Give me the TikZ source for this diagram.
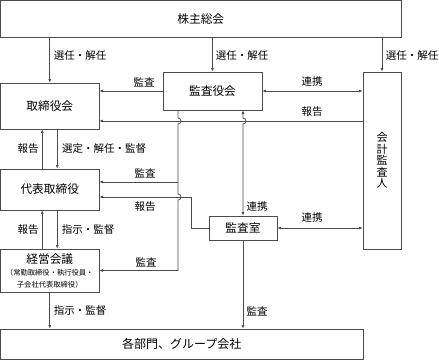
\documentclass[tikz,border=0pt]{standalone}
\usepackage{fontspec}
\setmainfont{Noto Sans CJK JP}
\usetikzlibrary{positioning,arrows.meta}

\begin{document}
\begin{tikzpicture}[
  x=1pt, y=-1pt,
  box/.style={draw=black!70, line width=0.8pt, inner sep=0pt, font=\fontsize{11.7}{13}\selectfont},
  lbl/.style={inner sep=0pt, font=\fontsize{10.5}{12}\selectfont},
  conn/.style={draw=black!70, line width=0.8pt},
  >={Latex[length=3.5pt,width=3pt]}]
  \useasboundingbox (0,0) rectangle (439,360);
  \node[box, minimum width=400.5, minimum height=36.5] (soukai) at (200.75,18.75) {株主総会};
  \node[box, minimum width=98.5, minimum height=46] (torishimari) at (49.75,106) {取締役会};
  \node[box, minimum width=99, minimum height=38] (kansayaku) at (212.5,91) {監査役会};
  \node[box, minimum width=38, minimum height=177, align=center,
        font=\fontsize{11}{11.5}\selectfont] (kaikei) at (382,160.5) {会\\計\\監\\査\\人};
  \node[box, minimum width=98.5, minimum height=41] (daihyo) at (49.75,189.5) {代表取締役};
  \node[box, minimum width=68, minimum height=24] (kansashitsu) at (243,228) {監査室};
  \node[box, minimum width=98.5, minimum height=43, align=center] (keiei) at (49.75,270.5)
    {経営会議\\[-1pt]{\fontsize{7.3}{9}\selectfont （常勤取締役・執行役員・}\\[-1pt]{\fontsize{7.3}{9}\selectfont 子会社代表取締役）}};
  \node[box, minimum width=362.5, minimum height=30, font=\fontsize{12}{13}\selectfont] (bumon) at (181.75,344) {各部門、グループ会社};
  \coordinate (a1) at (178,0);
  \coordinate (b1) at (243,0);
  \coordinate (c1) at (191,0);
  \coordinate (rep1) at (0,121);
  \coordinate (rep2) at (0,197);
  \coordinate (aud2) at (0,182);

  \draw[conn,->] (soukai.south -| torishimari.north) -- (torishimari.north);
  \draw[conn,->] (soukai.south -| kansayaku.north) -- (kansayaku.north);
  \draw[conn,->] (soukai.south -| kaikei.north) -- (kaikei.north);
  \draw[conn,->] (kansayaku.west) -- (kansayaku.west -| torishimari.east);
  \draw[conn,<->] (kansayaku.east) -- (kansayaku.east -| kaikei.west);
  \draw[conn,->] (kaikei.west |- rep1) -- (torishimari.east |- rep1);
  \draw[conn,->] (kansayaku.south -| a1) -- ([yshift=3pt]a1 |- rep1)
    arc[start angle=90, end angle=-90, radius=3pt] -- ([yshift=3pt]a1 |- rep2)
    arc[start angle=90, end angle=-90, radius=3pt] -- (a1 |- keiei.east) -- (keiei.east);
  \draw[conn,->] (a1 |- aud2) -- (daihyo.east |- aud2);
  \draw[conn,<->] (kansayaku.south -| b1) -- ([yshift=3pt]b1 |- rep1)
    arc[start angle=90, end angle=-90, radius=3pt] -- (kansashitsu.north);
  \draw[conn,->] (kansashitsu.west) -- (kansashitsu.west -| c1) -- (c1 |- rep2) -- (daihyo.east |- rep2);
  \draw[conn,<->] (kansashitsu.east) -- (kansashitsu.east -| kaikei.west);
  \draw[conn,->] (kansashitsu.south) -- (bumon.north -| kansashitsu.south);
  \draw[conn,->] ([xshift=-7.5pt]daihyo.north) -- ([xshift=-7.5pt]torishimari.south);
  \draw[conn,->] ([xshift=7.5pt]torishimari.south) -- ([xshift=7.5pt]daihyo.north);
  \draw[conn,->] ([xshift=-7.5pt]keiei.north) -- ([xshift=-7.5pt]daihyo.south);
  \draw[conn,->] ([xshift=7.5pt]daihyo.south) -- ([xshift=7.5pt]keiei.north);
  \draw[conn,->] (keiei.south) -- (bumon.north -| keiei.south);

  \node[lbl] (sel1) at (80,56) {選任・解任};
  \node[lbl] (sel2) at (242,56) {選任・解任};
  \node[lbl] (sel3) at (412,56) {選任・解任};
  \node[lbl] (aud1) at (144,82) {監査};
  \node[lbl] (coop1) at (312,82) {連携};
  \node[lbl] (rep1l) at (312,112) {報告};
  \node[lbl] (rep2l) at (28,149) {報告};
  \node[lbl] (sup1) at (104,149) {選定・解任・監督};
  \node[lbl] (aud2l) at (145,173) {監査};
  \node[lbl] (rep3l) at (145,207) {報告};
  \node[lbl] (coop2) at (257,207) {連携};
  \node[lbl] (coop3) at (312,218) {連携};
  \node[lbl] (rep4l) at (28,230) {報告};
  \node[lbl] (ins1) at (88,230) {指示・監督};
  \node[lbl] (aud3) at (146,262) {監査};
  \node[lbl] (ins2) at (80,311) {指示・監督};
  \node[lbl] (aud4) at (257,311) {監査};
\end{tikzpicture}
\end{document}
